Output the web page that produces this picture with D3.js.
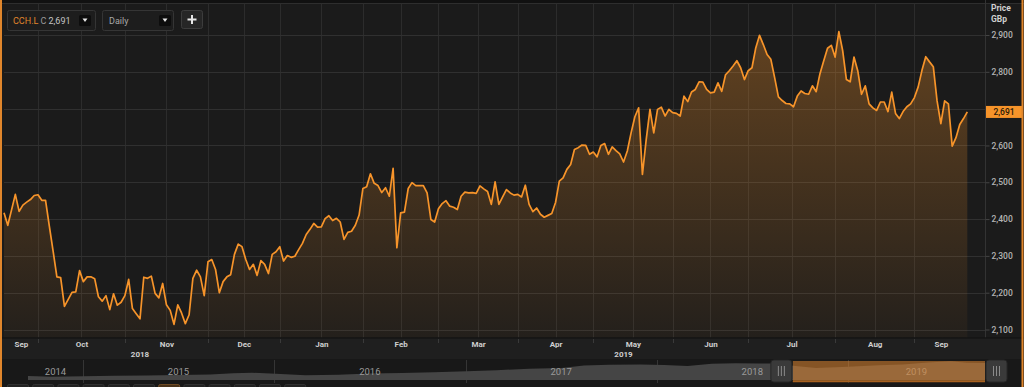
<!DOCTYPE html>
<html>
<head>
<meta charset="utf-8">
<script src="https://cdn.jsdelivr.net/npm/d3@7"></script>
<style>
  html, body { margin: 0; padding: 0; background: #1b1b1b; }
  svg { display: block; font-family: Roboto, "Open Sans", sans-serif; }
</style>
</head>
<body>
<svg id="chart" width="1024" height="387"></svg>
<script>
// daily closes, GBp, one per trading day from startDate
var prices = [
  2417, 2383, 2425, 2467, 2421, 2438, 2446, 2453, 2464, 2466,
  2451, 2451, 2381, 2313, 2243, 2241, 2163, 2182, 2201, 2202,
  2260, 2230, 2243, 2243, 2238, 2189, 2177, 2192, 2154, 2197,
  2166, 2174, 2192, 2236, 2157, 2143, 2129, 2242, 2239, 2245,
  2198, 2186, 2225, 2167, 2152, 2114, 2167, 2145, 2116, 2140,
  2239, 2261, 2243, 2192, 2284, 2290, 2263, 2200, 2230, 2243,
  2249, 2304, 2332, 2325,
  2290, 2263, 2277, 2247, 2287, 2277, 2252, 2304, 2311, 2325,
  2286, 2301, 2296, 2299, 2317, 2334, 2358, 2372, 2388, 2378,
  2379, 2401, 2409, 2396, 2402, 2392, 2345, 2364, 2367, 2383,
  2411, 2483, 2488, 2523, 2497, 2491, 2472, 2485, 2462, 2538,
  2322, 2417, 2419, 2483, 2499, 2491, 2491, 2491, 2471, 2399,
  2392, 2428, 2442, 2450, 2435, 2432, 2426, 2462, 2473, 2471,
  2472, 2470, 2490, 2482, 2475, 2440, 2501, 2440, 2460, 2480,
  2471, 2465, 2467, 2460, 2492, 2440, 2420, 2430, 2413, 2405,
  2410, 2415, 2445, 2503, 2512, 2535, 2548, 2589, 2594, 2601,
  2600, 2576, 2582, 2569, 2600, 2605, 2576, 2596, 2586, 2577,
  2555, 2585, 2634, 2678, 2702, 2521, 2616, 2698, 2634, 2698,
  2704, 2680, 2698, 2689, 2687, 2680, 2734, 2719, 2745, 2752,
  2773, 2772, 2752, 2743, 2745, 2770, 2747, 2792, 2803, 2816,
  2830, 2811, 2779, 2803, 2811, 2865, 2899, 2874, 2847, 2834,
  2784, 2732, 2722, 2714, 2713, 2705, 2734, 2748, 2741, 2739,
  2762, 2746, 2795, 2830, 2864, 2872, 2840, 2909, 2858, 2779,
  2773, 2840, 2803, 2739, 2762, 2713, 2702, 2695, 2718, 2718,
  2692, 2745, 2687, 2673, 2692, 2705, 2713, 2730, 2759, 2804,
  2841, 2827, 2814, 2721, 2659, 2721, 2713, 2598, 2621, 2657,
  2673, 2691
];
var startDate = "2018-09-18";
var holidays = ["2018-12-25", "2018-12-26", "2019-01-01", "2019-04-19",
                "2019-04-22", "2019-05-06", "2019-05-27", "2019-08-26"];
var priceTicks = [2100, 2200, 2300, 2400, 2500, 2600, 2700, 2800, 2900];
var lastPrice = 2691;
var symbol = "CCH.L";
var interval = "Daily";
var yearLabels = [{ text: "2018", date: "2018-11-07" }, { text: "2019", date: "2019-05-14" }];

// navigator (5 year overview)
var navDates = ["2014-09-18", "2014-11-03", "2015-01-02", "2015-03-02", "2015-05-01", "2015-07-01",
  "2015-09-01", "2015-10-15", "2015-11-20", "2016-01-04", "2016-03-01", "2016-05-03", "2016-07-01",
  "2016-09-01", "2016-11-01", "2017-01-03", "2017-03-01", "2017-05-02", "2017-07-03", "2017-08-15",
  "2017-10-02", "2017-12-01", "2018-01-15", "2018-03-01", "2018-04-16", "2018-06-01", "2018-07-16",
  "2018-09-03", "2018-09-18", "2018-11-01", "2019-01-02", "2019-03-01", "2019-04-16", "2019-06-03",
  "2019-07-17", "2019-08-16", "2019-09-20"];
var navValues = [1400, 1330, 1380, 1420, 1450, 1500,
  1560, 1680, 1730, 1620, 1480, 1530, 1640,
  1700, 1780, 1880, 1980, 2120, 2200, 2450,
  2530, 2560, 2500, 2400, 2620, 2680, 2640,
  2650, 2417, 2200, 2330, 2480, 2560, 2750,
  2880, 2720, 2691];
var navYears = [2014, 2015, 2016, 2017, 2018, 2019];

var orange = "#f7942a";
var svg = d3.select("#chart");
var parse = d3.utcParse("%Y-%m-%d"), fmt = d3.utcFormat("%Y-%m-%d");

// trading days
var hol = new Set(holidays);
var dates = [];
var d = parse(startDate);
while (dates.length < prices.length) {
  var wd = d.getUTCDay();
  if (wd !== 0 && wd !== 6 && !hol.has(fmt(d))) dates.push(d);
  d = d3.utcDay.offset(d, 1);
}
var n = prices.length;
var data = prices.map(function (v, i) { return { i: i, date: dates[i], value: v }; });

var plotTop = 3.5, plotBottom = 337.5, plotRight = 985.5;
var x = d3.scaleLinear().domain([0, n - 1]).range([4, 967.3]);
var y = d3.scaleLinear().domain([2100, 2900]).range([329.5, 35]);

// background
svg.append("rect").attr("width", 1024).attr("height", 387).attr("fill", "#1b1b1b");
svg.append("rect").attr("width", 1024).attr("height", 3).attr("fill", "#111");
svg.append("line").attr("x1", 0).attr("x2", 1024).attr("y1", plotTop).attr("y2", plotTop)
  .attr("stroke", "#2e2e2e");

// month boundaries
var monthStarts = [];
for (var i = 1; i < n; i++) {
  if (dates[i].getUTCMonth() !== dates[i - 1].getUTCMonth()) monthStarts.push(i);
}
var bounds = [0].concat(monthStarts, [n - 1]);
var months = d3.pairs(bounds).map(function (p, k, arr) {
  return { pos: (p[0] + p[1]) / 2, label: d3.utcFormat("%b")(dates[p[0]]), full: k > 0 && k < arr.length - 1 };
});
var vGrid = monthStarts.concat(months.filter(function (m) { return m.full; }).map(function (m) { return m.pos; }));

var grid = svg.append("g").attr("class", "grid");
grid.selectAll(".v").data(vGrid).enter().append("line")
  .attr("x1", function (v) { return Math.round(x(v)) + 0.5; })
  .attr("x2", function (v) { return Math.round(x(v)) + 0.5; })
  .attr("y1", plotTop).attr("y2", plotBottom)
  .attr("stroke", "#2c2c2c");
grid.selectAll(".h").data(priceTicks).enter().append("line")
  .attr("x1", 4).attr("x2", plotRight)
  .attr("y1", function (v) { return Math.round(y(v)) + 0.5; })
  .attr("y2", function (v) { return Math.round(y(v)) + 0.5; })
  .attr("stroke", "#303030");

// area + line
var defs = svg.append("defs");
var grad = defs.append("linearGradient").attr("id", "fillGrad")
  .attr("gradientUnits", "userSpaceOnUse")
  .attr("x1", 0).attr("x2", 0).attr("y1", y(2900)).attr("y2", plotBottom);
grad.append("stop").attr("offset", 0).attr("stop-color", orange).attr("stop-opacity", 0.32);
grad.append("stop").attr("offset", 1).attr("stop-color", orange).attr("stop-opacity", 0.04);

var area = d3.area()
  .x(function (p) { return x(p.i); })
  .y0(plotBottom)
  .y1(function (p) { return y(p.value); });
var line = d3.line()
  .x(function (p) { return x(p.i); })
  .y(function (p) { return y(p.value); });

svg.append("path").datum(data).attr("d", area).attr("fill", "url(#fillGrad)");
svg.append("path").datum(data).attr("d", line)
  .attr("fill", "none").attr("stroke", orange).attr("stroke-width", 1.7)
  .attr("stroke-linejoin", "round");

// right price axis
svg.append("line").attr("x1", plotRight).attr("x2", plotRight).attr("y1", 0).attr("y2", plotBottom)
  .attr("stroke", "#333");
var tagY = y(lastPrice);
// the last-price tag covers any tick label it sits on
var labelTicks = priceTicks.filter(function (t) { return Math.abs(y(t) - tagY) > 9; });
var yAxis = d3.axisRight(y).tickValues(labelTicks).tickSize(4).tickPadding(2)
  .tickFormat(d3.format(","));
var yg = svg.append("g").attr("transform", "translate(" + plotRight + ",0)").call(yAxis);
yg.select(".domain").remove();
yg.selectAll(".tick line").attr("stroke", "#444");
yg.selectAll(".tick text").attr("fill", "#b4b4b4").attr("font-size", 8.5)
  .attr("font-weight", 500).attr("font-family", "Roboto, sans-serif");

svg.append("text").attr("x", 991).attr("y", 11).text("Price")
  .attr("fill", "#d0d0d0").attr("font-size", 8.5).attr("font-weight", 700);
svg.append("text").attr("x", 991).attr("y", 22).text("GBp")
  .attr("fill", "#d0d0d0").attr("font-size", 8.5).attr("font-weight", 700);

svg.append("rect").attr("x", 986).attr("y", tagY - 6).attr("width", 36).attr("height", 12)
  .attr("fill", orange);
svg.append("text").attr("x", 1004).attr("y", tagY + 3).attr("text-anchor", "middle")
  .text(d3.format(",")(lastPrice)).attr("fill", "#2a1a08").attr("font-size", 8.5).attr("font-weight", 500);

// bottom date axis band
svg.append("rect").attr("x", 0).attr("y", 338).attr("width", 1024).attr("height", 21).attr("fill", "#1f1f1f");
svg.append("line").attr("x1", 0).attr("x2", 1024).attr("y1", 338).attr("y2", 338).attr("stroke", "#111");
svg.append("g").selectAll("line").data(monthStarts).enter().append("line")
  .attr("x1", function (v) { return Math.round(x(v)) + 0.5; })
  .attr("x2", function (v) { return Math.round(x(v)) + 0.5; })
  .attr("y1", 339).attr("y2", 343).attr("stroke", "#3a3a3a");

var xAxis = d3.axisBottom(x)
  .tickValues(months.map(function (m) { return m.pos; }))
  .tickFormat(function (v, k) { return months[k].label; })
  .tickSize(0).tickPadding(0);
var xg = svg.append("g").attr("transform", "translate(0,341)").call(xAxis);
xg.select(".domain").remove();
xg.selectAll(".tick text").attr("fill", "#cfcfcf").attr("font-size", 8)
  .attr("font-weight", 700).attr("font-family", "Roboto, sans-serif");

function indexOfDate(s) {
  var t = parse(s);
  return d3.bisector(function (dd) { return dd; }).left(dates, t);
}
svg.append("g").selectAll("text").data(yearLabels).enter().append("text")
  .attr("x", function (yl) { return x(indexOfDate(yl.date)); })
  .attr("y", 356.5).attr("text-anchor", "middle")
  .text(function (yl) { return yl.text; })
  .attr("fill", "#cfcfcf").attr("font-size", 8).attr("font-weight", 700);

// navigator
var navTop = 359;
svg.append("rect").attr("x", 0).attr("y", navTop).attr("width", 1024).attr("height", 28).attr("fill", "#181818");
var navParsed = navDates.map(parse);
var nx = d3.scaleUtc().domain([navParsed[0], navParsed[navParsed.length - 1]]).range([28, 985]);
var ny = d3.scaleLinear().domain([1000, 3000]).range([380, 360]);

var yearStarts = navYears.slice(1).map(function (yr) { return new Date(Date.UTC(yr, 0, 1)); });
svg.append("g").selectAll("line").data(yearStarts).enter().append("line")
  .attr("x1", function (t) { return Math.round(nx(t)) + 0.5; })
  .attr("x2", function (t) { return Math.round(nx(t)) + 0.5; })
  .attr("y1", navTop + 1).attr("y2", 383).attr("stroke", "#353535");

var navData = navParsed.map(function (t, k) { return { t: t, v: navValues[k] }; });
svg.append("path").datum(navData)
  .attr("d", d3.area().x(function (p) { return nx(p.t); }).y0(380).y1(function (p) { return ny(p.v); }))
  .attr("fill", "#454545");

svg.append("g").selectAll("text").data(navYears).enter().append("text")
  .attr("x", function (yr) {
    var a = Math.max(nx.domain()[0], new Date(Date.UTC(yr, 0, 1)));
    var b = Math.min(nx.domain()[1], new Date(Date.UTC(yr + 1, 0, 1)));
    return (nx(a) + nx(b)) / 2;
  })
  .attr("y", 375).attr("text-anchor", "middle")
  .text(function (yr) { return yr; })
  .attr("fill", "#9a9a9a").attr("font-size", 9.5);

var selA = nx(dates[0]), selB = nx(dates[n - 1]);
svg.append("rect").attr("x", selA).attr("y", 361).attr("width", selB - selA).attr("height", 21)
  .attr("fill", "#e08632").attr("fill-opacity", 0.55);
svg.append("line").attr("x1", selA).attr("x2", selB).attr("y1", 381.5).attr("y2", 381.5)
  .attr("stroke", "#a8611f").attr("stroke-width", 1.5);

[selA - 22, selB + 1].forEach(function (hx) {
  var h = svg.append("g").attr("transform", "translate(" + hx + ",360)");
  h.append("rect").attr("width", 21).attr("height", 22).attr("rx", 3)
    .attr("fill", "#3a3a3a").attr("stroke", "#262626");
  [-3, 0, 3].forEach(function (o) {
    h.append("line").attr("x1", 10.5 + o).attr("x2", 10.5 + o).attr("y1", 6).attr("y2", 16)
      .attr("stroke", "#8a8a8a");
  });
});

// partially visible range buttons at the very bottom
var btnX = 7;
for (var b = 0; b < 12; b++) {
  svg.append("rect").attr("x", btnX + 0.5).attr("y", 384.5).attr("width", 21).attr("height", 5).attr("rx", 1.5)
    .attr("fill", b === 6 ? "#4a3219" : "#222").attr("stroke", b === 6 ? "#6e4a24" : "#303030");
  btnX += 25.2;
}

// toolbar
var tb = svg.append("g");
tb.append("rect").attr("x", 7.5).attr("y", 10.5).attr("width", 88).attr("height", 20).attr("rx", 2)
  .attr("fill", "#1d1d1d").attr("stroke", "#353535");
tb.append("text").attr("x", 13).attr("y", 23.5).text(symbol)
  .attr("fill", "#e0862c").attr("font-size", 9);
tb.append("text").attr("x", 40.5).attr("y", 23.5).text("C")
  .attr("fill", "#9a9a9a").attr("font-size", 9);
tb.append("text").attr("x", 48.5).attr("y", 23.5).text(d3.format(",")(lastPrice))
  .attr("fill", "#c4c4c4").attr("font-size", 9);
tb.append("rect").attr("x", 102.5).attr("y", 10.5).attr("width", 71).attr("height", 20).attr("rx", 2)
  .attr("fill", "#1d1d1d").attr("stroke", "#353535");
tb.append("text").attr("x", 109).attr("y", 23.5).text(interval)
  .attr("fill", "#a8a8a8").attr("font-size", 9);
[79, 159].forEach(function (ax) {
  tb.append("rect").attr("x", ax).attr("y", 15).attr("width", 12).attr("height", 11).attr("rx", 1.5)
    .attr("fill", "#0d0d0d");
  tb.append("path").attr("d", "M" + (ax + 3.5) + ",18.5h5l-2.5,3.5z").attr("fill", "#e8e8e8");
});
tb.append("rect").attr("x", 181.5).attr("y", 10.5).attr("width", 21).attr("height", 18).attr("rx", 2)
  .attr("fill", "#262626").attr("stroke", "#3c3c3c");
tb.append("path").attr("d", "M192,15v9M187.5,19.5h9").attr("stroke", "#e6e6e6").attr("stroke-width", 2);

// orange frame
svg.append("rect").attr("x", 0).attr("y", 0).attr("width", 2).attr("height", 387).attr("fill", "#e0862c");
svg.append("rect").attr("x", 1021.5).attr("y", 0).attr("width", 2).attr("height", 387).attr("fill", "#e0862c");
</script>
</body>
</html>
